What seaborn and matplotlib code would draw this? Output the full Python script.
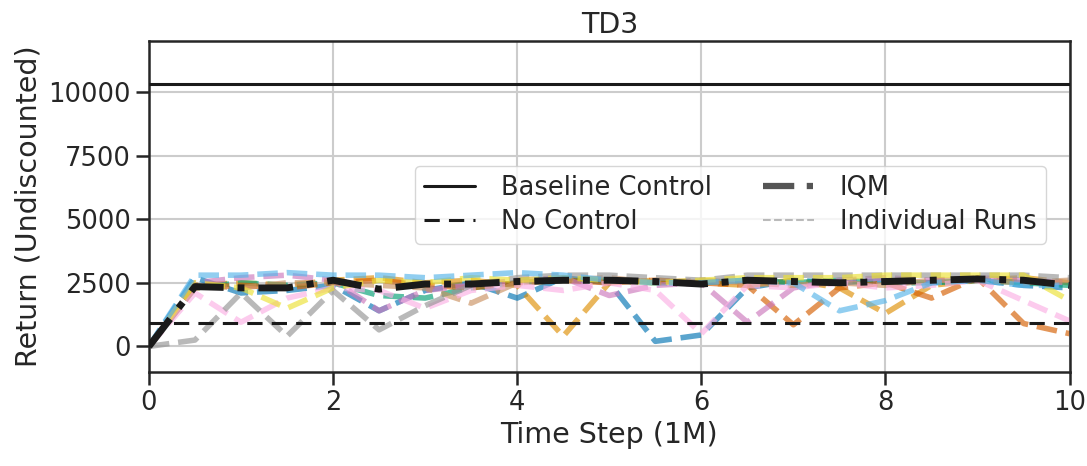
import matplotlib
matplotlib.use("Agg")
import matplotlib.pyplot as plt
from matplotlib.lines import Line2D
import seaborn as sns

# ----------------------------------------
# Data
# ----------------------------------------
steps = [0, 0.5, 1, 1.5, 2, 2.5, 3, 3.5, 4, 4.5, 5,
         5.5, 6, 6.5, 7, 7.5, 8, 8.5, 9, 9.5, 10]

baseline_control = 10300
no_control = 920

run_blue = [0, 2700, 2100, 2200, 2400, 1400, 2200, 2500, 1900, 2700, 2500,
            200, 450, 2300, 2600, 2500, 2600, 2500, 2600, 2400, 2300]
run_orange = [0, 2400, 2500, 2400, 2600, 2700, 2500, 2600, 2400, 400, 2500,
              2600, 2500, 2400, 2600, 2300, 1300, 2400, 2600, 2700, 2500]
run_green = [0, 2300, 2500, 2400, 2500, 2000, 1900, 2300, 2500, 2600, 2600,
             2500, 2500, 2600, 2500, 2600, 2500, 2500, 2600, 2500, 2400]
run_red = [0, 2300, 2400, 2300, 2500, 2600, 2400, 2300, 2500, 2600, 2500,
           2600, 2500, 2400, 850, 2300, 2500, 1900, 2700, 900, 500]
run_purple = [0, 2500, 2700, 2800, 2600, 1400, 2200, 2400, 2600, 2700, 2000,
              2400, 2500, 950, 2300, 2600, 2700, 2600, 2700, 2600, 2500]
run_brown = [0, 2400, 2300, 2500, 2500, 2400, 2300, 1700, 2500, 2600, 2700,
             2500, 2600, 2500, 2400, 2500, 2400, 2600, 2600, 2500, 2600]
run_pink = [0, 2100, 950, 1900, 2300, 2200, 1500, 2200, 2400, 2200, 2500,
            2200, 500, 2400, 2300, 2500, 2300, 2400, 2600, 1800, 1000]
run_gray = [0, 250, 2100, 400, 2200, 650, 1600, 2400, 2700, 2800, 2800,
            2700, 2600, 2800, 2800, 2800, 2800, 2800, 2800, 2800, 2700]
run_yellow = [0, 2500, 2300, 1500, 2300, 2600, 2500, 2700, 2600, 2700, 2600,
              2500, 2600, 2700, 2700, 2700, 2800, 2800, 2800, 2800, 1800]
run_lightblue = [0, 2800, 2800, 2900, 2800, 2800, 2700, 2800, 2900, 2800, 2600,
                 2500, 2500, 2600, 2500, 1400, 1800, 2500, 2600, 2400, 2400]

runs = [run_blue, run_orange, run_green, run_red, run_purple,
        run_brown, run_pink, run_gray, run_yellow, run_lightblue]

iqm = [0, 2350, 2300, 2300, 2600, 2250, 2450, 2450, 2550, 2600, 2600,
       2550, 2450, 2600, 2550, 2500, 2550, 2600, 2650, 2600, 2400]

# ----------------------------------------
# Plot
# ----------------------------------------
sns.set_theme(style="ticks")
plt.rcParams["font.family"] = ["DejaVu Sans"]

fig, ax = plt.subplots(figsize=(10.87, 4.66), dpi=100)
fig.subplots_adjust(left=0.137, right=0.984, top=0.912, bottom=0.202)

palette = sns.color_palette("colorblind", len(runs))
for run, color in zip(runs, palette):
    sns.lineplot(x=steps, y=run, ax=ax, color=color, linestyle="--",
                 linewidth=4, alpha=0.65, zorder=2)

sns.lineplot(x=steps, y=iqm, ax=ax, color="#1a1a1a", linewidth=5,
             dashes=False, zorder=4)
ax.lines[-1].set_linestyle((0, (5, 2, 1, 2)))

ax.axhline(baseline_control, color="#1a1a1a", linewidth=2.2, zorder=3)
ax.axhline(no_control, color="#1a1a1a", linewidth=2.2,
           linestyle=(0, (5, 3)), zorder=3)

ax.set_xlim(0, 10)
ax.set_ylim(-1000, 12000)
ax.set_xticks([0, 2, 4, 6, 8, 10])
ax.set_yticks([0, 2500, 5000, 7500, 10000])
ax.grid(True, color="#cccccc", linewidth=1.5)
ax.set_axisbelow(True)
for spine in ax.spines.values():
    spine.set_linewidth(1.8)
    spine.set_color("#262626")
ax.tick_params(labelsize=18.5, width=1.8, length=9.5, color="#262626")

ax.set_xlabel("Time Step (1M)", fontsize=20.5)
ax.set_ylabel("Return (Undiscounted)", fontsize=20.5)
ax.set_title("TD3", fontsize=20.5)

handles = [
    Line2D([], [], color="#1a1a1a", linewidth=2.2),
    Line2D([], [], color="#1a1a1a", linewidth=2.2, linestyle=(0, (5, 3))),
    Line2D([], [], color="#555555", linewidth=4.5, linestyle=(0, (5, 2, 1, 2))),
    Line2D([], [], color="#aaaaaa", linewidth=1.5, linestyle="--", alpha=0.8),
]
labels = ["Baseline Control", "No Control", "IQM", "Individual Runs"]
ax.legend(handles, labels, ncol=2, loc="center right",
          bbox_to_anchor=(0.988, 0.505), fontsize=18.5,
          handlelength=2.0, handletextpad=1.0, columnspacing=2.0,
          labelspacing=0.3, borderpad=0.35)

plt.savefig("out.png", dpi=100)
